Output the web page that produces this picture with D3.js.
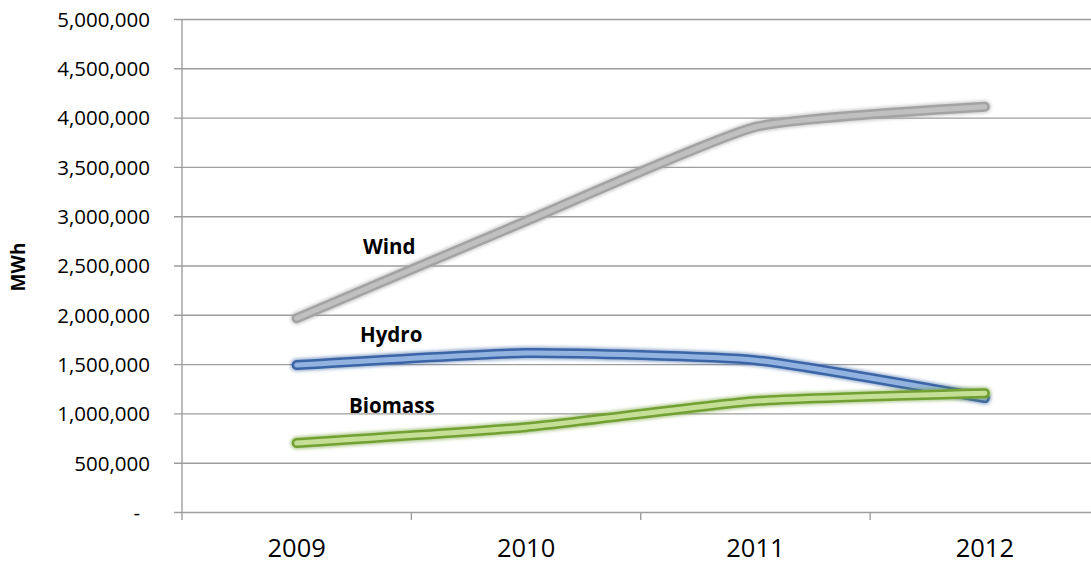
<!DOCTYPE html>
<html>
<head>
<meta charset="utf-8">
<script src="https://cdn.jsdelivr.net/npm/d3@7"></script>
<style>
  body { margin: 0; background: #fff; }
  text { font-family: 'Open Sans', sans-serif; fill: #000; }
</style>
</head>
<body>
<div class="canvas"></div>
<script>
// data
const years = ['2009', '2010', '2011', '2012'];
const wind = [1965000, 2950000, 3905000, 4110000];
const hydro = [1490000, 1612000, 1540000, 1155000];
const biomass = [700000, 860000, 1125000, 1205000];
const yTicks = [0, 500000, 1000000, 1500000, 2000000, 2500000, 3000000, 3500000, 4000000, 4500000, 5000000];

const series = [
  { name: 'Wind', values: wind, outer: '#a3a3a3', inner: '#c0c0c0', label: { x: 363, y: 254 } },
  { name: 'Hydro', values: hydro, outer: '#3b65a6', inner: '#92b3e0', label: { x: 360, y: 342 } },
  { name: 'Biomass', values: biomass, outer: '#72a032', inner: '#c6df96', label: { x: 349, y: 413 } }
];

const dims = { width: 1091, height: 568 };
const plot = { left: 182, right: 1099.5, top: 19, bottom: 512 };

const svg = d3.select('.canvas')
  .append('svg')
  .attr('width', dims.width)
  .attr('height', dims.height);

const defs = svg.append('defs');
defs.append('filter')
  .attr('id', 'soft')
  .attr('x', '-10%').attr('y', '-50%')
  .attr('width', '120%').attr('height', '200%')
  .append('feGaussianBlur')
  .attr('stdDeviation', 1.6);

const x = d3.scaleBand()
  .domain(years)
  .range([plot.left, plot.right]);

const y = d3.scaleLinear()
  .domain([0, 5000000])
  .range([plot.bottom, plot.top]);

// gridlines + y labels
const yAxis = d3.axisLeft(y)
  .tickValues(yTicks)
  .tickSize(-(dims.width - plot.left))
  .tickPadding(32)
  .tickFormat(d => d === 0 ? '-' : d3.format(',')(d));

const yAxisGroup = svg.append('g')
  .attr('transform', `translate(${plot.left}, 0)`)
  .call(yAxis);

yAxisGroup.select('.domain').remove();
yAxisGroup.selectAll('.tick line')
  .attr('x1', -8)
  .attr('stroke', '#9e9e9e')
  .attr('stroke-width', 1.4);
yAxisGroup.selectAll('.tick text')
  .attr('font-size', 20.5)
  .attr('font-family', "'Open Sans', sans-serif")
  .attr('fill', '#111')
  .attr('dy', '0.36em')
  .attr('dx', d => d === 0 ? -10 : 0);

// vertical axis line
svg.append('line')
  .attr('x1', plot.left).attr('x2', plot.left)
  .attr('y1', plot.top).attr('y2', plot.bottom + 8)
  .attr('stroke', '#9e9e9e')
  .attr('stroke-width', 1.4);

// x axis
const xAxis = d3.axisBottom(x)
  .tickSize(0)
  .tickPadding(27);

const xAxisGroup = svg.append('g')
  .attr('transform', `translate(0, ${plot.bottom})`)
  .call(xAxis);

xAxisGroup.select('.domain').remove();
xAxisGroup.selectAll('.tick text')
  .attr('font-size', 25.5)
  .attr('font-family', "'Open Sans', sans-serif")
  .attr('fill', '#111');

// category boundary ticks
xAxisGroup.selectAll('.bound')
  .data(years.slice(1))
  .enter()
  .append('line')
    .attr('x1', d => x(d)).attr('x2', d => x(d))
    .attr('y1', 0).attr('y2', 8)
    .attr('stroke', '#9e9e9e')
    .attr('stroke-width', 1.4);

// lines
const line = d3.line()
  .x((d, i) => x(years[i]) + x.bandwidth() / 2)
  .y(d => y(d))
  .curve(d3.curveCardinal.tension(0.5));

const lines = svg.append('g');

series.forEach(s => {
  const g = lines.append('g');
  g.append('path')
    .attr('d', line(s.values))
    .attr('fill', 'none')
    .attr('stroke', s.outer)
    .attr('stroke-opacity', 0.5)
    .attr('stroke-width', 13)
    .attr('stroke-linecap', 'round')
    .attr('filter', 'url(#soft)');
  g.append('path')
    .attr('d', line(s.values))
    .attr('fill', 'none')
    .attr('stroke', s.outer)
    .attr('stroke-width', 10)
    .attr('stroke-linecap', 'round')
    .attr('stroke-linejoin', 'round');
  g.append('path')
    .attr('d', line(s.values))
    .attr('fill', 'none')
    .attr('stroke', s.inner)
    .attr('stroke-width', 5)
    .attr('stroke-linecap', 'round')
    .attr('stroke-linejoin', 'round');
});

// series labels
svg.append('g')
  .selectAll('text')
  .data(series)
  .enter()
  .append('text')
    .attr('x', d => d.label.x)
    .attr('y', d => d.label.y)
    .attr('font-size', 20.5)
    .attr('font-weight', 'bold')
    .text(d => d.name);

// y title
svg.append('text')
  .attr('transform', 'translate(25, 267) rotate(-90)')
  .attr('text-anchor', 'middle')
  .attr('font-size', 19)
  .attr('font-weight', 'bold')
  .text('MWh');
</script>
</body>
</html>
